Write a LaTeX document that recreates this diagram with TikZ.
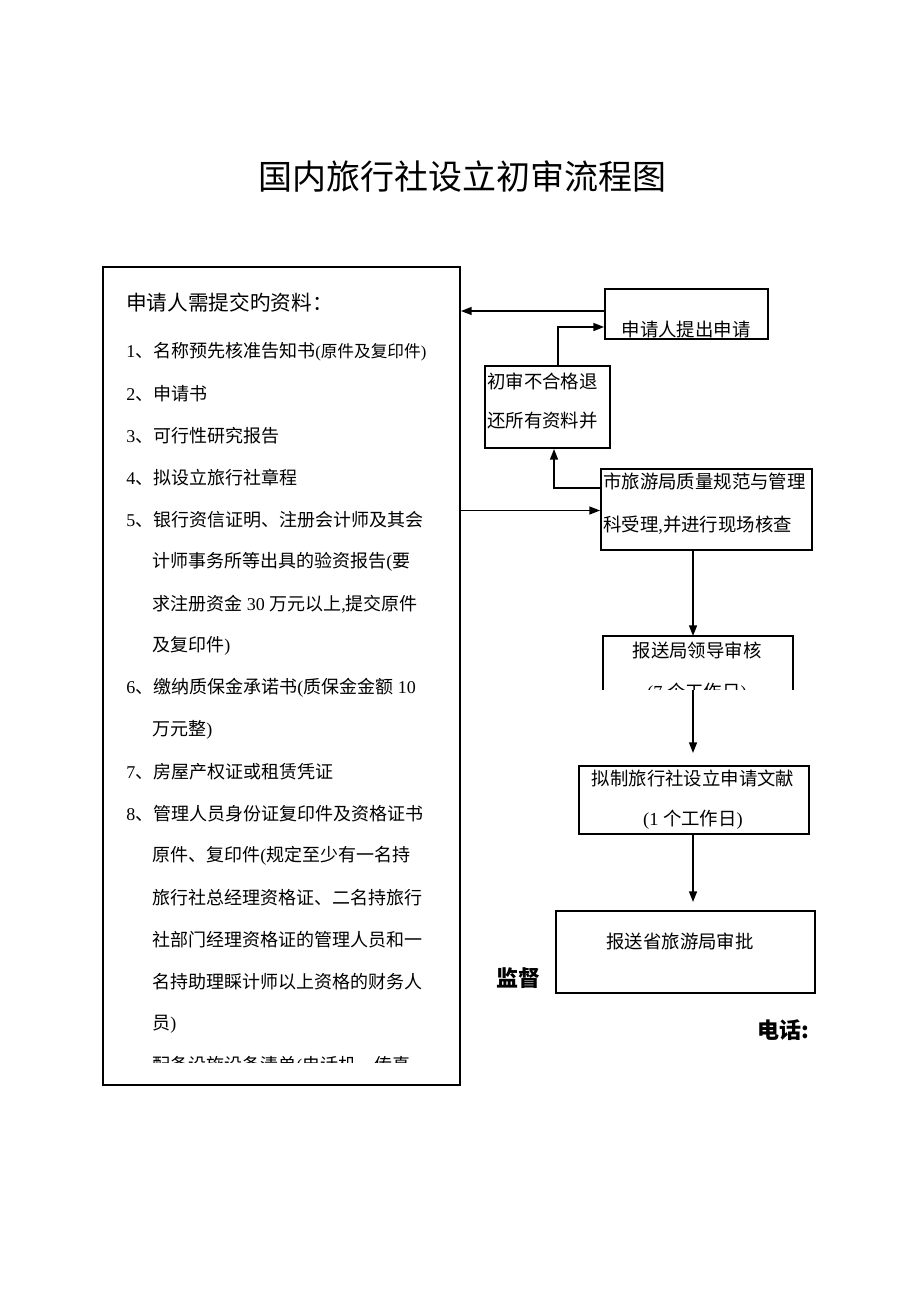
\documentclass[tikz,border=0pt]{standalone}
\usepackage{fontspec}
\setmainfont{Noto Sans CJK SC}
\newfontfamily\latn{Liberation Serif}
\usetikzlibrary{arrows.meta}

\def\u{0.75pt}

\begin{document}
\begin{tikzpicture}[x=0.75pt,y=-0.75pt,
  box/.style={draw,line width=1.5pt,inner sep=0pt,anchor=north west},
  open box/.style={inner sep=0pt,anchor=north west},
  txt/.style={inner sep=0pt,font=\fontsize{13.8}{16}\selectfont},
  item/.style={inner sep=0pt,anchor=west,font=\fontsize{13.5}{16}\selectfont},
  flow/.style={line width=1.1pt,-{Triangle[length=8pt,width=6pt]}},
  tag/.style={inner sep=0pt,font=\fontsize{16.5}{20}\selectfont\bfseries}]

\useasboundingbox (0,0) rectangle (920,1302);

% title
\node[inner sep=0pt,font=\fontsize{25.5}{30}\selectfont] (title) at (462,177) {国内旅行社设立初审流程图};

% materials list
\node[box,minimum width=357*\u,minimum height=818*\u] (docs) at (102,266) {};
\node[item,font=\fontsize{15.5}{18}\selectfont] (head) at (126,303) {申请人需提交旳资料：};
\begin{scope}
  \clip (docs.north west) rectangle ([yshift=23.5*\u]docs.south east);
  \foreach \x/\t [count=\i] in {
      126/{{\latn 1}、名称预先核准告知书{\fontsize{12.5}{14}\selectfont{\latn(}原件及复印件{\latn)}}},
      126/{{\latn 2}、申请书},
      126/{{\latn 3}、可行性研究报告},
      126/{{\latn 4}、拟设立旅行社章程},
      126/{{\latn 5}、银行资信证明、注册会计师及其会},
      152/{计师事务所等出具的验资报告{\latn(}要},
      152/{求注册资金{\latn\ 30 }万元以上{\latn,}提交原件},
      152/{及复印件{\latn)}},
      126/{{\latn 6}、缴纳质保金承诺书{\latn(}质保金金额{\latn\ 10}},
      152/{万元整{\latn)}},
      126/{{\latn 7}、房屋产权证或租赁凭证},
      126/{{\latn 8}、管理人员身份证复印件及资格证书},
      152/{原件、复印件{\latn(}规定至少有一名持},
      152/{旅行社总经理资格证、二名持旅行},
      152/{社部门经理资格证的管理人员和一},
      152/{名持助理睬计师以上资格的财务人},
      152/{员{\latn)}},
      152/{配备设施设备清单{\latn(}电话机、传真}}
    \node[item] (doc\i) at (\x,352+42*\i-42) {\t};
\end{scope}

% flow boxes
\node[box,minimum width=163*\u,minimum height=50*\u] (apply) at (604,288) {};
\begin{scope}
  \clip (apply.south west) rectangle (apply.north east);
  \node[txt] (applyT) at (686,330) {申请人提出申请};
\end{scope}

\node[box,minimum width=125*\u,minimum height=82*\u] (reject) at (484,365) {};
\node[txt,anchor=west] (rejectA) at (487,381) {初审不合格退};
\node[txt,anchor=west] (rejectB) at (487,421) {还所有资料并};

\node[box,minimum width=211*\u,minimum height=81*\u] (accept) at (600,468) {};
\node[txt,anchor=west] (acceptA) at (603,481) {市旅游局质量规范与管理};
\node[txt,anchor=west] (acceptB) at (603,525) {科受理{\latn,}并进行现场核查};

\node[open box,minimum width=189*\u,minimum height=53*\u] (leader) at (603,636) {};
\draw[line width=1.5pt] (leader.south west) -- (leader.north west) -- (leader.north east) -- (leader.south east);
\node[txt] (leaderA) at (697,650) {报送局领导审核};
\begin{scope}
  \clip (leader.south west) rectangle (leader.north east);
  \node[txt] (leaderB) at (697,693) {{\latn(7 }个工作日{\latn)}};
\end{scope}

\node[box,minimum width=230*\u,minimum height=68*\u] (draft) at (578,765) {};
\node[txt] (draftA) at (693,778) {拟制旅行社设立申请文献};
\node[txt] (draftB) at (693,820) {{\latn(1 }个工作日{\latn)}};

\node[box,minimum width=259*\u,minimum height=82*\u] (prov) at (555,910) {};
\node[txt] (provT) at (680,941) {报送省旅游局审批};

\node[tag] (watch) at (518,978) {监督};
\node[tag] (phone) at (783,1030) {电话:};

% connectors
\coordinate (back) at ([yshift=3*\u]apply.west);
\draw[flow] (back) -- (back -| docs.east);

\coordinate (redo) at ([xshift=10.5*\u]reject.north);
\draw[flow] (redo) |- ([yshift=-13*\u]apply.west);

\coordinate (fail) at ([yshift=21.5*\u]accept.west);
\draw[flow] (fail) -| ([xshift=6.5*\u]reject.south);

\coordinate (give) at ([yshift=-1*\u]accept.west);
\draw[flow] (give -| docs.east) -- (give);

\coordinate (spine) at ([xshift=-13.5*\u]accept.south);
\draw[flow] (spine) -- (spine |- leader.north);
\draw[flow,shorten >=12*\u] (spine |- leader.south) -- (spine |- draft.north);
\draw[flow,shorten >=8*\u] (spine |- draft.south) -- (spine |- prov.north);

\end{tikzpicture}
\end{document}
